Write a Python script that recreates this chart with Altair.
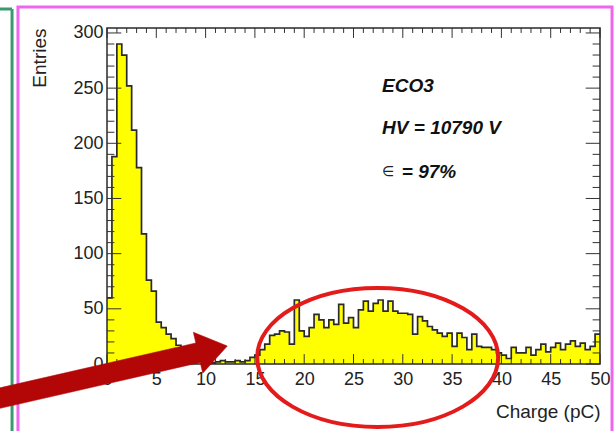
import altair as alt
import pandas as pd

# ---------------- data ----------------
BIN_W = 0.5
bin_starts = [i * BIN_W for i in range(100)]
counts = [60, 188, 290, 280, 252, 212, 178, 118, 76, 66,
          38, 33, 27, 23, 17, 12, 8, 5, 4, 3,
          2, 1, 2, 3, 2, 2, 3, 2, 3, 6,
          8, 13, 18, 26, 27, 30, 29, 18, 58, 30,
          25, 33, 45, 40, 33, 40, 36, 54, 37, 42,
          33, 49, 57, 48, 55, 58, 48, 57, 48, 46,
          46, 45, 27, 43, 39, 34, 31, 28, 25, 28,
          16, 28, 24, 13, 27, 16, 15, 15, 13, 10,
          8, 5, 15, 10, 10, 15, 8, 13, 18, 11,
          15, 19, 13, 18, 21, 16, 19, 13, 16, 27]

X_MAX = 50.0
Y_MAX = 304.5
x_major = [0, 5, 10, 15, 20, 25, 30, 35, 40, 45, 50]
x_minor = [v for v in range(51) if v % 5 != 0]
y_major = [0, 50, 100, 150, 200, 250, 300]
y_minor = [v for v in range(0, 301, 10) if v % 50 != 0]

ann_text = ["ECO3", "HV = 10790 V", "= 97%"]
ann_x = [27.9, 27.9, 29.9]
ann_y = [252, 214, 174]
eps_text = ["\u2208"]
eps_x = [27.9]
eps_y = [174]

# annotation geometry (data units)
ellipse_center = [27.45, 5.9]
arrow_tip = [12.2, 16.3]
pink_frame = [-9.03, 51.22, -70.0, 323.5]
green_line = [-9.63, -70.0, 321.7]

# tick lengths in data units (ROOT style, inward)
XT_MAJ, XT_MIN = 9.0, 4.5      # entries units (vertical ticks)
YT_MAJ, YT_MIN = 1.45, 0.75    # pC units (horizontal ticks)

W, H = 493, 336

xs = alt.Scale(domain=[0, X_MAX], nice=False, zero=False)
ys = alt.Scale(domain=[0, Y_MAX], nice=False, zero=False)

FONT = "Liberation Sans"

xaxis = alt.Axis(values=x_major, format="d", ticks=False, tickSize=0, domain=False, grid=False,
                 labelFont=FONT, labelFontSize=18, labelColor="#222", labelPadding=6,
                 title="Charge (pC)", titleFont=FONT, titleFontSize=19, titleFontWeight="normal",
                 titleColor="#222", titleAlign="right", titleAnchor="end", titleX=W, titleY=53,
                 titleBaseline="alphabetic", labelFlush=False, labelOverlap=False)
yaxis = alt.Axis(values=y_major, format="d", ticks=False, tickSize=0, domain=False, grid=False,
                 labelFont=FONT, labelFontSize=18, labelColor="#222", labelPadding=4,
                 title="Entries", titleFont=FONT, titleFontSize=19, titleFontWeight="normal",
                 titleColor="#222", titleAngle=270, titleAlign="right", titleX=-62, titleY=0,
                 titleBaseline="alphabetic", labelFlush=False, labelOverlap=False)


def X(field):
    return alt.X(field, scale=xs, axis=xaxis)


def Y(field):
    return alt.Y(field, scale=ys, axis=yaxis)


hist = pd.DataFrame({"x": bin_starts + [X_MAX], "n": counts + [counts[-1]]})

area = alt.Chart(hist).mark_area(interpolate="step-after", color="#ffff00", opacity=1).encode(
    x=X("x:Q"), y=Y("n:Q"))
outline = alt.Chart(hist).mark_line(interpolate="step-after", color="#2a2a2a", strokeWidth=1.7).encode(
    x=X("x:Q"), y=Y("n:Q"))

# ticks
rows = []
for v in x_major:
    rows.append({"x": v, "x2": v, "y": 0, "y2": XT_MAJ})
    rows.append({"x": v, "x2": v, "y": Y_MAX, "y2": Y_MAX - XT_MAJ})
for v in x_minor:
    rows.append({"x": v, "x2": v, "y": 0, "y2": XT_MIN})
    rows.append({"x": v, "x2": v, "y": Y_MAX, "y2": Y_MAX - XT_MIN})
for v in y_major:
    rows.append({"x": 0, "x2": YT_MAJ, "y": v, "y2": v})
    rows.append({"x": X_MAX, "x2": X_MAX - YT_MAJ, "y": v, "y2": v})
for v in y_minor:
    rows.append({"x": 0, "x2": YT_MIN, "y": v, "y2": v})
    rows.append({"x": X_MAX, "x2": X_MAX - YT_MIN, "y": v, "y2": v})
ticks_df = pd.DataFrame(rows)
ticks = alt.Chart(ticks_df).mark_rule(color="#333", strokeWidth=1).encode(
    x=X("x:Q"), x2="x2:Q", y=Y("y:Q"), y2="y2:Q")

frame = alt.Chart(pd.DataFrame({"x": [0], "x2": [X_MAX], "y": [0], "y2": [Y_MAX]})).mark_rect(
    fillOpacity=0, stroke="#2a2a2a", strokeWidth=1.5).encode(
    x=X("x:Q"), x2="x2:Q", y=Y("y:Q"), y2="y2:Q")

pink = alt.Chart(pd.DataFrame({"x": [pink_frame[0]], "x2": [pink_frame[1]],
                               "y": [pink_frame[2]], "y2": [pink_frame[3]]})).mark_rect(
    fillOpacity=0, stroke="#ee66ee", strokeWidth=3).encode(
    x=X("x:Q"), x2="x2:Q", y=Y("y:Q"), y2="y2:Q")
green = alt.Chart(pd.DataFrame({"x": [-30.0, green_line[0]], "x2": [green_line[0], green_line[0]],
                                "y": [green_line[2], green_line[1]],
                                "y2": [green_line[2], green_line[2]]})).mark_rule(
    color="#3a9a6e", strokeWidth=3).encode(
    x=X("x:Q"), x2="x2:Q", y=Y("y:Q"), y2="y2:Q")

texts = alt.Chart(pd.DataFrame({"x": ann_x, "y": ann_y, "t": ann_text})).mark_text(
    font=FONT, fontSize=19, fontWeight="bold", fontStyle="italic", align="left",
    baseline="middle", color="#111").encode(
    x=X("x:Q"), y=Y("y:Q"), text="t:N")
eps = alt.Chart(pd.DataFrame({"x": eps_x, "y": eps_y, "t": eps_text})).mark_text(
    font="DejaVu Sans", fontSize=14, fontWeight="normal", align="left",
    baseline="middle", color="#222").encode(
    x=X("x:Q"), y=Y("y:Q"), text="t:N")

# ellipse (path units = pixels, since size=4)
a, b = 120.5, 69.5
ka, kb = 0.5523 * a, 0.5523 * b
ellipse_path = (f"M {-a} 0 C {-a} {-kb} {-ka} {-b} 0 {-b} C {ka} {-b} {a} {-kb} {a} 0 "
                f"C {a} {kb} {ka} {b} 0 {b} C {-ka} {b} {-a} {kb} {-a} 0 Z")
ellipse = alt.Chart(pd.DataFrame({"x": [ellipse_center[0]], "y": [ellipse_center[1]]})).mark_point(
    shape=ellipse_path, size=4, filled=False, stroke="#e31b1b", strokeWidth=4, opacity=1).encode(
    x=X("x:Q"), y=Y("y:Q"))

arrow_path = "M 0 0 L -30 -21 L -30 -10 L -260 -10 L -260 10 L -30 10 L -30 21 Z"
arrow = alt.Chart(pd.DataFrame({"x": [arrow_tip[0]], "y": [arrow_tip[1]]})).mark_point(
    shape=arrow_path, size=4, filled=True, fill="#b30606", stroke="#b30606", strokeWidth=0.5,
    angle=347.1, opacity=1).encode(
    x=X("x:Q"), y=Y("y:Q"))

chart = alt.layer(pink, green, area, outline, ticks, frame, texts, eps, ellipse, arrow).properties(
    width=W, height=H,
    padding={"left": 107, "top": 28, "right": 16, "bottom": 67},
    autosize=alt.AutoSizeParams(type="none"),
    background="white",
).configure_view(stroke=None)

chart.save("out.html", embed_options={"renderer": "svg", "actions": False})
